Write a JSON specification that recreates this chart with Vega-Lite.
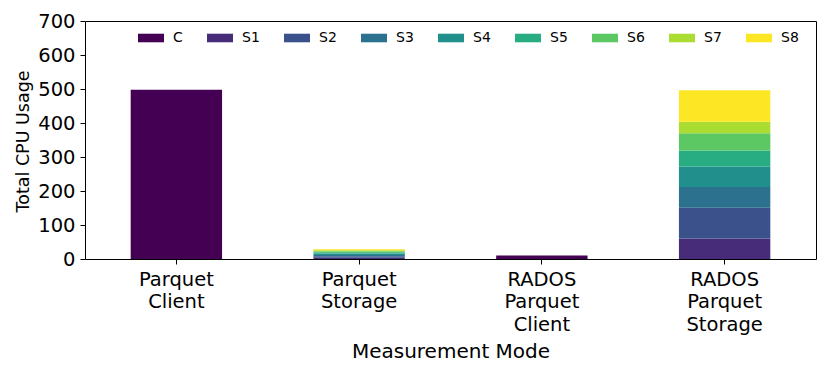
{
  "$schema": "https://vega.github.io/schema/vega-lite/v6.json",
  "autosize": {"type": "none"},
  "padding": {"left": 85, "top": 21, "right": 14, "bottom": 110},
  "width": 731,
  "height": 238,
  "background": "white",
  "config": {
    "font": "DejaVu Sans",
    "view": {"stroke": "#000000", "strokeWidth": 1}
  },
  "data": {
    "values": [
      {"mode": "Parquet Client", "part": "C", "idx": 0, "cpu": 498},
      {"mode": "Parquet Storage", "part": "S1", "idx": 1, "cpu": 4},
      {"mode": "Parquet Storage", "part": "S2", "idx": 2, "cpu": 4},
      {"mode": "Parquet Storage", "part": "S3", "idx": 3, "cpu": 4},
      {"mode": "Parquet Storage", "part": "S4", "idx": 4, "cpu": 4},
      {"mode": "Parquet Storage", "part": "S5", "idx": 5, "cpu": 4},
      {"mode": "Parquet Storage", "part": "S6", "idx": 6, "cpu": 3},
      {"mode": "Parquet Storage", "part": "S7", "idx": 7, "cpu": 3},
      {"mode": "Parquet Storage", "part": "S8", "idx": 8, "cpu": 3},
      {"mode": "RADOS Parquet Client", "part": "C", "idx": 0, "cpu": 10},
      {"mode": "RADOS Parquet Storage", "part": "S1", "idx": 1, "cpu": 60},
      {"mode": "RADOS Parquet Storage", "part": "S2", "idx": 2, "cpu": 91},
      {"mode": "RADOS Parquet Storage", "part": "S3", "idx": 3, "cpu": 61},
      {"mode": "RADOS Parquet Storage", "part": "S4", "idx": 4, "cpu": 60},
      {"mode": "RADOS Parquet Storage", "part": "S5", "idx": 5, "cpu": 47},
      {"mode": "RADOS Parquet Storage", "part": "S6", "idx": 6, "cpu": 51},
      {"mode": "RADOS Parquet Storage", "part": "S7", "idx": 7, "cpu": 34},
      {"mode": "RADOS Parquet Storage", "part": "S8", "idx": 8, "cpu": 92}
    ]
  },
  "mark": {"type": "bar"},
  "encoding": {
    "x": {
      "field": "mode",
      "type": "nominal",
      "sort": ["Parquet Client", "Parquet Storage", "RADOS Parquet Client", "RADOS Parquet Storage"],
      "scale": {"paddingInner": 0.5, "paddingOuter": 0.25},
      "axis": {
        "title": "Measurement Mode",
        "titleFont": "DejaVu Sans",
        "titleFontSize": 20,
        "titleFontWeight": "normal",
        "titleColor": "#000000",
        "titleX": 365.5,
        "titleY": 98,
        "titleBaseline": "alphabetic",
        "titleAnchor": "middle",
        "labelAngle": 0,
        "labelExpr": "split(datum.label, ' ')",
        "labelFont": "DejaVu Sans",
        "labelFontSize": 19.5,
        "labelLineHeight": 22.5,
        "labelColor": "#000000",
        "labelBaseline": "top",
        "labelPadding": 6,
        "labelAlign": "center",
        "tickSize": 5,
        "tickColor": "#000000",
        "domain": false,
        "grid": false
      }
    },
    "y": {
      "field": "cpu",
      "type": "quantitative",
      "stack": "zero",
      "scale": {"domain": [0, 700], "nice": false},
      "axis": {
        "title": "Total CPU Usage",
        "titleFont": "DejaVu Sans",
        "titleFontSize": 17.5,
        "titleFontWeight": "normal",
        "titleColor": "#000000",
        "titleX": -57,
        "titleY": 120,
        "titleAngle": -90,
        "titleBaseline": "alphabetic",
        "titleAnchor": "middle",
        "values": [0, 100, 200, 300, 400, 500, 600, 700],
        "labelFont": "DejaVu Sans",
        "labelFontSize": 19.5,
        "labelColor": "#000000",
        "labelPadding": 5,
        "labelFlush": false,
        "labelOverlap": false,
        "tickSize": 5,
        "tickColor": "#000000",
        "domain": false,
        "grid": false
      }
    },
    "color": {
      "field": "part",
      "type": "nominal",
      "scale": {
        "domain": ["C", "S1", "S2", "S3", "S4", "S5", "S6", "S7", "S8"],
        "range": ["#440154", "#472c7a", "#3b518b", "#2c718e", "#21908d", "#27ad81", "#5cc863", "#aadc32", "#fde725"]
      },
      "legend": {
        "title": null,
        "orient": "none",
        "legendX": 53,
        "legendY": 4,
        "direction": "horizontal",
        "columns": 9,
        "padding": 0,
        "columnPadding": 24,
        "symbolType": "M-1,-0.33H1V0.33H-1Z",
        "symbolSize": 676,
        "symbolStrokeWidth": 0,
        "symbolOpacity": 1,
        "labelFont": "DejaVu Sans",
        "labelFontSize": 14,
        "labelColor": "#000000",
        "labelOffset": 9
      }
    },
    "order": {"field": "idx", "type": "quantitative", "sort": "ascending"}
  }
}
